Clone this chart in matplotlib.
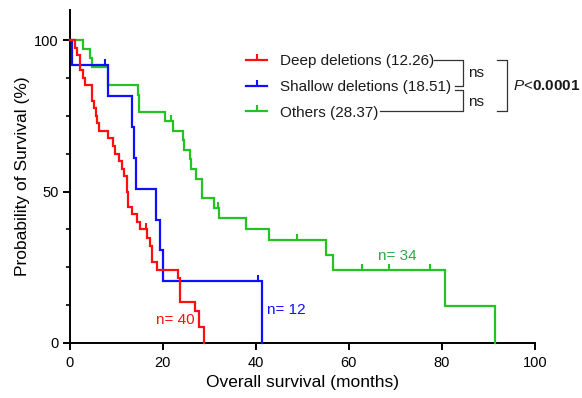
import numpy as np
import matplotlib
matplotlib.use('Agg')
import matplotlib.pyplot as plt
from matplotlib.lines import Line2D
from matplotlib.path import Path
from matplotlib.ticker import MultipleLocator

plt.rcParams['font.family'] = ['Liberation Sans', 'DejaVu Sans']
plt.rcParams['mathtext.fontset'] = 'custom'
plt.rcParams['mathtext.rm'] = 'Liberation Sans'
plt.rcParams['mathtext.it'] = 'Liberation Sans:italic'
plt.rcParams['mathtext.bf'] = 'Liberation Sans:bold'

# ---------------- data ----------------
labels = ["Deep deletions (12.26)", "Shallow deletions (18.51)", "Others (28.37)"]
n_labels = ["n= 40", "n= 12", "n= 34"]

deep_t = [1.1, 1.6, 2.3, 2.8, 3.3, 4.7, 5.1, 5.6, 5.9, 6.3, 8.3, 9.2, 9.7, 10.6,
          11.2, 11.6, 12.26, 12.6, 13.4, 14.5, 15.1, 16.6, 17.2, 17.6, 18.7,
          23.3, 23.8, 27.0, 27.8, 28.9]
deep_s = [97.5, 95.0, 90.0, 87.5, 85.0, 80.0, 77.5, 75.0, 72.5, 70.0, 67.5, 65.0,
          62.5, 60.0, 57.5, 55.0, 50.0, 45.0, 42.5, 40.0, 37.5, 34.8, 32.1, 26.8,
          24.1, 21.4, 13.4, 10.7, 5.4, 0.0]
deep_cens = [16.4]

shallow_t = [0.5, 8.15, 13.3, 13.7, 14.2, 18.5, 19.4, 20.0, 41.3]
shallow_s = [91.7, 81.5, 71.3, 61.1, 50.9, 40.7, 30.6, 20.4, 0.0]
shallow_cens = [7.6, 40.4]

others_t = [2.8, 4.3, 4.7, 8.15, 14.7, 14.9, 20.5, 22.3, 24.3, 24.6, 25.8, 26.1,
            27.1, 28.37, 31.1, 32.1, 37.9, 42.8, 55.0, 56.5, 80.7, 91.4]
others_s = [97.1, 94.1, 91.2, 85.3, 82.0, 76.4, 73.2, 70.1, 66.9, 63.8, 60.6, 57.4,
            54.1, 47.8, 44.6, 41.1, 37.6, 34.1, 29.0, 24.2, 12.1, 0.0]
others_cens = [21.7, 31.9, 48.8, 62.9, 68.6, 77.4]

x_ticks = [0, 20, 40, 60, 80, 100]
y_ticks = [0, 50, 100]

colors = ['#ff1010', '#1010ff', '#22c322']
text_colors = ['#ff1010', '#1010ff', '#2ca84a']

# ---------------- figure ----------------
W, H = 582, 398
fig = plt.figure(figsize=(W / 100, H / 100), dpi=100)
ax = fig.add_axes([69.8 / W, 1 - 343 / H, 465 / W, 333.3 / H])

tick_marker = Path([(0, 0), (0, 1)], [Path.MOVETO, Path.LINETO])

series = [(others_t, others_s, others_cens, colors[2]),
          (shallow_t, shallow_s, shallow_cens, colors[1]),
          (deep_t, deep_s, deep_cens, colors[0])]
for t, s, cens, c in series:
    tt = np.r_[0.0, t]
    ss = np.r_[100.0, s]
    ax.step(tt, ss, where='post', color=c, lw=1.6, solid_joinstyle='miter',
            clip_on=False, zorder=3)
    idx = np.searchsorted(tt, cens, side='right') - 1
    ax.plot(cens, ss[idx], ls='none', marker=tick_marker, ms=8.5, mew=1.5,
            color=c, clip_on=False, zorder=3)

# n annotations
ax.text(18.5, 7.6, n_labels[0], color=text_colors[0], fontsize=11, va='center', ha='left')
ax.text(42.5, 10.9, n_labels[1], color=text_colors[1], fontsize=11, va='center', ha='left')
ax.text(66.3, 28.7, n_labels[2], color=text_colors[2], fontsize=11, va='center', ha='left')

ax.set_xlim(0, 100)
ax.set_ylim(0, 110)
ax.set_xticks(x_ticks)
ax.set_yticks(y_ticks)
ax.yaxis.set_minor_locator(MultipleLocator(12.5))
for sp in ['top', 'right']:
    ax.spines[sp].set_visible(False)
for sp in ['left', 'bottom']:
    ax.spines[sp].set_linewidth(1.4)
ax.tick_params(axis='both', which='major', width=1.4, length=5.3, labelsize=10.5,
               colors='black', pad=2.5)
ax.tick_params(axis='x', which='major', pad=4)
ax.tick_params(axis='y', which='minor', width=1.2, length=2.6)
ax.set_xlabel("Overall survival (months)", fontsize=12.5, labelpad=4)
ax.set_ylabel("Probability of Survival (%)", fontsize=12.5, labelpad=3)

# legend
handles = [Line2D([], [], color=c, lw=1.6, marker=tick_marker, ms=8.5, mew=1.5)
           for c in colors]
leg = ax.legend(handles, labels, loc='upper left',
                bbox_to_anchor=(246 / W, 1 - 54 / H), bbox_transform=fig.transFigure,
                frameon=False, handlelength=1.4, handletextpad=0.8,
                labelspacing=0.78, borderpad=0, borderaxespad=0, fontsize=11,
                numpoints=1)
for txt in leg.get_texts():
    txt.set_color('#1a1a1a')

# comparison brackets (figure pixel coordinates)
def pline(xs, ys, lw=0.9):
    fig.add_artist(Line2D(np.array(xs) / W, 1 - np.array(ys) / H,
                          transform=fig.transFigure, color='#333333', lw=lw))

pline([434, 463.3, 463.3, 455], [59.5, 59.5, 86, 86])
pline([455, 463.3, 463.3, 380], [90, 90, 111, 111])
pline([497, 507.3, 507.3, 497], [60, 60, 111, 111])
fig.text(468 / W, 1 - 73 / H, "ns", fontsize=11, va='center', ha='left', color='#1a1a1a')
fig.text(468 / W, 1 - 101.5 / H, "ns", fontsize=11, va='center', ha='left', color='#1a1a1a')
fig.text(513 / W, 1 - 86 / H, r"$\mathit{P}$<$\mathbf{0.0001}$", fontsize=11,
         va='center', ha='left', color='#1a1a1a')

fig.savefig("out.png", dpi=100)
